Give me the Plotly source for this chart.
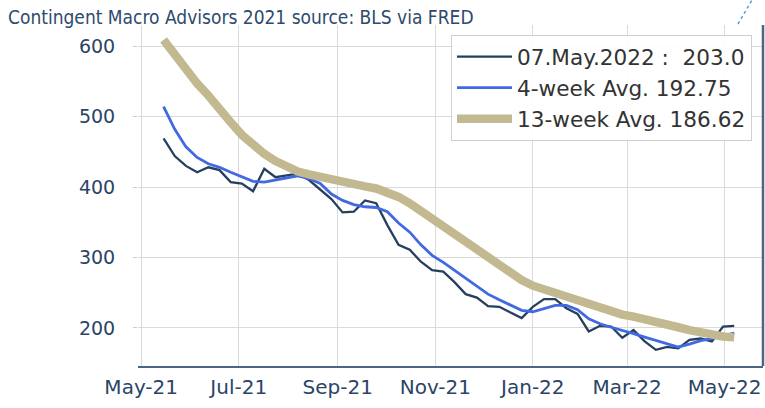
import plotly.graph_objects as go
import pandas as pd

# ---------------- data ----------------
week_ending = pd.date_range("2021-05-15", periods=52, freq="7D")

weekly_claims = [469, 444, 430, 421, 428, 424, 407, 405, 394, 426, 414, 417, 419,
                 410, 396, 383, 364, 365, 381, 377, 346, 318, 311, 294, 282, 280,
                 265, 248, 243, 231, 230, 222, 214, 230, 241, 241, 228, 220, 195,
                 203, 202, 186, 197, 181, 169, 173, 171, 183, 185, 181, 202, 203]

avg_4wk = [514, 482, 457, 442, 433, 428, 421, 415, 408, 407, 410, 413, 416,
           412, 405, 390, 381, 375, 372, 371, 365, 349, 336, 318, 303, 293,
           282, 271, 259, 248, 240, 232, 225, 223, 227, 232, 232, 226, 213,
           206, 201, 197, 192, 187, 182, 177, 173, 177, 182, 185, 189, 192.75]

avg_13wk = [609, 588, 569, 547, 530, 513, 492, 474, 460, 447, 437, 428, 422,
            418, 414, 410, 407, 404, 401, 398, 393, 386, 377, 366, 355, 344,
            334, 324, 313, 301, 289, 279, 268, 260, 255, 249, 243, 237, 232,
            228, 223, 219, 216, 213, 209, 205, 201, 197, 193, 190, 188, 186.62]

series_names = ["07.May.2022 :  203.0", "4-week Avg. 192.75", "13-week Avg. 186.62"]
title_text = "Contingent Macro Advisors 2021 source: BLS via FRED"

y_tick_vals = [200, 300, 400, 500, 600]
x_tick_vals = ["2021-05-01", "2021-07-01", "2021-09-01", "2021-11-01",
               "2022-01-01", "2022-03-01", "2022-05-01"]
x_tick_text = ["May-21", "Jul-21", "Sep-21", "Nov-21", "Jan-22", "Mar-22", "May-22"]

# ---------------- styling ----------------
W, H = 765, 408
L, R, T, B = 138, 2, 25, 42
PW, PH = W - L - R, H - T - B
tick_color = "#2b4466"
grid_color = "#dadada"
spine_color = "#4d6584"
cond_font = "DejaVu Sans Condensed, Liberation Sans Narrow, DejaVu Sans, sans-serif"
tick_font = "DejaVu Sans, sans-serif"

fig = go.Figure()
fig.add_trace(go.Scatter(x=week_ending, y=weekly_claims, mode="lines",
                         name=series_names[0], legendgroup="a",
                         line=dict(color="#263f5e", width=2.3)))
fig.add_trace(go.Scatter(x=week_ending, y=avg_4wk, mode="lines",
                         name=series_names[1], legendgroup="b",
                         line=dict(color="#4169e1", width=2.8)))
fig.add_trace(go.Scatter(x=week_ending, y=avg_13wk, mode="lines",
                         name=series_names[2], legendgroup="c",
                         line=dict(color="#c3b991", width=8.5)))

fig.update_layout(
    width=W, height=H,
    margin=dict(l=L, r=R, t=T, b=B, autoexpand=False),
    paper_bgcolor="white", plot_bgcolor="white",
    title=dict(text=title_text, xref="container", yref="container",
               x=8 / W, xanchor="left", y=1 - 17 / H, yanchor="middle",
               font=dict(family=cond_font, size=19, color="#2e4a6e")),
    legend=dict(x=(451 - L) / PW, y=(H - B - 35) / PH,
                xanchor="left", yanchor="top",
                bgcolor="rgba(255,255,255,0.92)", bordercolor="#cfcfcf", borderwidth=1,
                font=dict(family="DejaVu Sans, sans-serif", size=21.6, color="#333333"),
                tracegroupgap=0, itemwidth=55),
    showlegend=True,
)

fig.update_xaxes(
    type="date", range=["2021-04-29", "2022-05-25"],
    tickvals=x_tick_vals, ticktext=x_tick_text,
    showgrid=True, gridcolor=grid_color, gridwidth=1,
    showline=True, linecolor=spine_color, linewidth=2,
    ticks="", ticklabelstandoff=2, automargin=False,
    tickfont=dict(family=tick_font, size=20, color=tick_color),
    zeroline=False,
)
fig.update_yaxes(
    range=[146, 630], tickvals=y_tick_vals,
    showgrid=True, gridcolor=grid_color, gridwidth=1,
    showline=False, zeroline=False, automargin=False,
    ticks="outside", ticklen=4, tickcolor="#cccccc",
    ticklabelstandoff=14,
    tickfont=dict(family=tick_font, size=19, color=tick_color),
)

# right spine
fig.add_shape(type="line", xref="paper", yref="paper", x0=1, x1=1, y0=0, y1=1,
              line=dict(color=spine_color, width=2.5), layer="above")
# small dashed stroke at the top right corner of the original image
fig.add_shape(type="line", xref="paper", yref="paper",
              x0=(738 - L) / PW, y0=(H - B - 24) / PH,
              x1=(752 - L) / PW, y1=(H - B - 0) / PH,
              line=dict(color="#5b9bd5", width=1.5, dash="dot"), layer="above")

fig.write_html("out.html",
               config={"displayModeBar": False},
               post_script="document.body.style.margin='0';document.body.style.padding='0';")
